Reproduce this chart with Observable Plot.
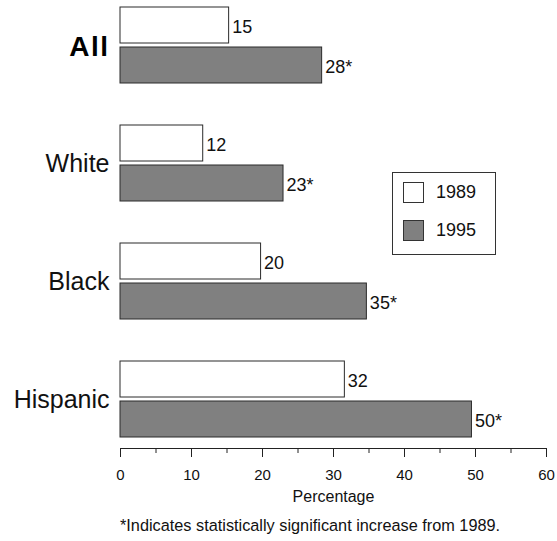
<!DOCTYPE html>
<html>
<head>
<meta charset="utf-8">
<script src="https://cdn.jsdelivr.net/npm/d3@7"></script>
<script src="https://cdn.jsdelivr.net/npm/@observablehq/plot@0.6"></script>
<style>
  html, body { margin: 0; padding: 0; background: #fff; }
  body { width: 557px; height: 541px; position: relative; font-family: "Liberation Sans", Arial, sans-serif; }
  #chart svg { display: block; font-family: "Liberation Sans", Arial, sans-serif; }
  #legend { position: absolute; left: 392px; top: 172px; width: 104px; height: 83px; box-sizing: border-box;
            border: 1px solid #333; background: #fff; font-size: 18px; color: #111; }
  #legend .row { position: absolute; left: 10px; display: flex; align-items: center; }
  #legend .sw { width: 21px; height: 21px; box-sizing: border-box; border: 1px solid #333; margin-right: 12px; }
  #caption { position: absolute; left: 120px; top: 516px; font-size: 16.3px; color: #111; white-space: nowrap; }
</style>
</head>
<body>
<div id="chart"></div>
<div id="legend"></div>
<div id="caption"></div>
<script>
const groups = ["All", "White", "Black", "Hispanic"];
const years = ["1989", "1995"];
const values1989 = [15.3, 11.65, 19.8, 31.6];
const values1995 = [28.4, 22.96, 34.7, 49.5];
const labels1989 = ["15", "12", "20", "32"];
const labels1995 = ["28*", "23*", "35*", "50*"];
const majorTicks = [0, 10, 20, 30, 40, 50, 60];
const minorTicks = [5, 15, 25, 35, 45, 55];
const colors = {"1989": "#ffffff", "1995": "#808080"};
const xLabel = "Percentage";
const captionText = "*Indicates statistically significant increase from 1989.";

const rows = groups.map((g, i) => ({group: g, v1989: values1989[i], v1995: values1995[i], l1989: labels1989[i], l1995: labels1995[i]}));

const stroke = "#2a2a2a";
const chart = Plot.plot({
  width: 557,
  height: 510,
  marginTop: 7,
  marginLeft: 120,
  marginRight: 11,
  marginBottom: 62,
  style: {fontFamily: "Liberation Sans, Arial, sans-serif", color: "#111", background: "#fff"},
  x: {domain: [0, 60], axis: null},
  y: {domain: groups, paddingInner: 0.356, paddingOuter: 0, insetBottom: 11, axis: null},
  marks: [
    Plot.barX(rows, {x: "v1989", y: "group", insetBottom: 40, fill: colors["1989"], stroke, strokeWidth: 1}),
    Plot.barX(rows, {x: "v1995", y: "group", insetTop: 40, fill: colors["1995"], stroke, strokeWidth: 1}),
    Plot.text(rows, {x: "v1989", y: "group", text: "l1989", dy: -18, dx: 3, textAnchor: "start", fontSize: 18, fill: "#111"}),
    Plot.text(rows, {x: "v1995", y: "group", text: "l1995", dy: 22, dx: 3, textAnchor: "start", fontSize: 18, fill: "#111"}),
    Plot.text(rows.filter(d => d.group === "All"), {x: 0, y: "group", text: "group", dx: -11, dy: 2, textAnchor: "end", fontSize: 28, fontWeight: "bold", fill: "#000", className: "grp-all"}),
    Plot.text(rows.filter(d => d.group !== "All"), {x: 0, y: "group", text: "group", dx: -11, textAnchor: "end", fontSize: 25, fill: "#111"}),
    Plot.frame({anchor: "bottom", stroke: "#222"}),
    Plot.axisX(minorTicks, {tickSize: 5, text: null, label: null, stroke: "#222"}),
    Plot.axisX(majorTicks, {tickSize: 9, text: null, label: xLabel, labelAnchor: "center", labelArrow: "none", labelOffset: 53, stroke: "#222", fill: "#111"}),
    Plot.text(majorTicks, {x: d => d, frameAnchor: "bottom", lineAnchor: "top", dy: 21, text: d => String(d), fontSize: 15, fill: "#111"})
  ]
});
document.getElementById("chart").appendChild(chart);

chart.querySelectorAll("text").forEach(t => {
  if (t.textContent.trim() === xLabel) t.style.fontSize = "16px";
});
chart.querySelectorAll(".grp-all text, g.grp-all text").forEach(t => t.setAttribute("letter-spacing", "1.5"));

const legend = document.getElementById("legend");
years.forEach((y, i) => {
  const row = document.createElement("div");
  row.className = "row";
  row.style.top = (9 + i * 38) + "px";
  const sw = document.createElement("div");
  sw.className = "sw";
  sw.style.background = colors[y];
  const lab = document.createElement("span");
  lab.textContent = y;
  row.appendChild(sw); row.appendChild(lab);
  legend.appendChild(row);
});
document.getElementById("caption").textContent = captionText;
</script>
</body>
</html>
